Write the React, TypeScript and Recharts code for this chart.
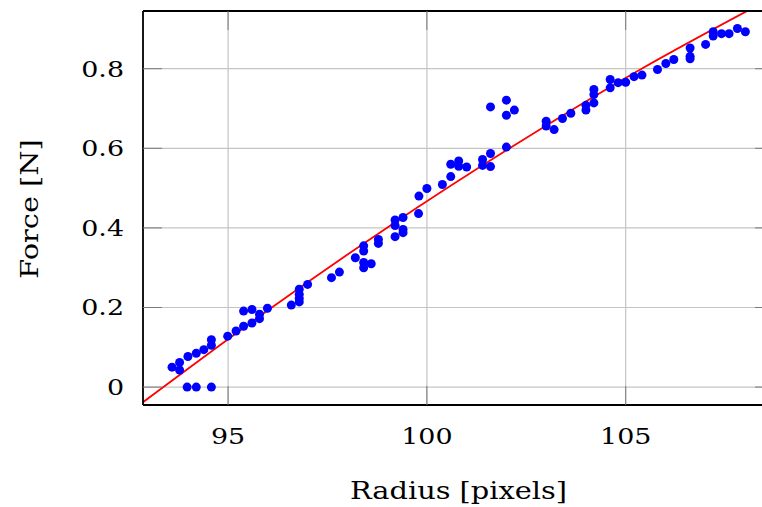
import React from 'react';
import { ComposedChart, XAxis, YAxis, CartesianGrid, Scatter, Line, Label } from 'recharts';

const radius = [
  93.59, 93.78, 93.78, 93.99, 94.2, 94.39, 94.58, 94.58, 93.97, 94.2, 94.58,
  94.99, 95.2, 95.39, 95.39, 95.6, 95.6, 95.79, 95.79, 95.99, 96.59,
  96.79, 96.79, 96.79, 96.79, 97.0, 97.6, 97.8, 98.2, 98.41, 98.41, 98.6,
  98.41, 98.41, 98.78, 98.78, 99.2, 99.2, 99.2, 99.4, 99.4, 99.4, 99.79,
  99.8, 100.0, 100.39, 100.6, 100.6, 100.8, 100.8, 101.0, 101.4, 101.4,
  101.6, 101.6, 101.6, 102.0, 102.0, 102.2, 102.0, 103.0, 103.0, 103.2,
  103.41, 103.62, 104.0, 104.0, 104.2, 104.2, 104.2, 104.61, 104.61, 104.81,
  105.0, 105.21, 105.41, 105.8, 106.01, 106.21, 106.62, 106.62, 106.62,
  107.01, 107.2, 107.2, 107.41, 107.6, 107.81, 108.01,
];
const force = [
  0.05, 0.062, 0.043, 0.077, 0.085, 0.094, 0.119, 0.105, 0.0, 0.0, 0.0,
  0.128, 0.141, 0.153, 0.191, 0.161, 0.195, 0.172, 0.183, 0.198, 0.206,
  0.246, 0.233, 0.223, 0.214, 0.258, 0.275, 0.289, 0.325, 0.313, 0.3, 0.31,
  0.355, 0.342, 0.371, 0.361, 0.42, 0.406, 0.378, 0.426, 0.396, 0.388, 0.436,
  0.48, 0.499, 0.509, 0.529, 0.56, 0.568, 0.555, 0.553, 0.572, 0.557,
  0.587, 0.554, 0.704, 0.721, 0.683, 0.696, 0.603, 0.668, 0.656, 0.647,
  0.675, 0.688, 0.708, 0.696, 0.748, 0.735, 0.714, 0.773, 0.752, 0.765,
  0.766, 0.78, 0.784, 0.798, 0.813, 0.823, 0.852, 0.831, 0.825,
  0.861, 0.893, 0.882, 0.888, 0.888, 0.901, 0.893,
];

const fitRadius = [92.86, 96.1, 98.99, 102.08, 105.4, 108.07];
const fitForce = [-0.038, 0.2, 0.4, 0.6, 0.8, 0.946];

const xTicks = [95, 100, 105];
const yTicks = [0, 0.2, 0.4, 0.6, 0.8];
const xDomain = [92.86, 108.73];
const yDomain = [-0.045, 0.945];

const FONT = '"DejaVu Serif", serif';
const TICK_FS = 23;
const TICK_SX = 1.17;
const LABEL_FS = 24;
const LABEL_SX = 1.2;

const XTick = (props: any) => {
  const { x, y, payload } = props;
  return (
    <g transform={`translate(${x},${y}) scale(${TICK_SX},1)`}>
      <text x={0} y={0} textAnchor="middle" dominantBaseline="central" fontFamily={FONT} fontSize={TICK_FS} fill="#000">
        {String(payload.value)}
      </text>
    </g>
  );
};

const YTick = (props: any) => {
  const { x, y, payload } = props;
  return (
    <g transform={`translate(${x},${y}) scale(${TICK_SX},1)`}>
      <text x={0} y={0} textAnchor="end" dominantBaseline="central" fontFamily={FONT} fontSize={TICK_FS} fill="#000">
        {String(payload.value)}
      </text>
    </g>
  );
};

const NoLabel = () => <g />;

const XTitle = (props: any) => {
  const vb = props.viewBox || { x: 135, y: 397, width: 631, height: 102 };
  const cx = vb.x + vb.width / 2;
  const cy = vb.y + 85;
  return (
    <g transform={`translate(${cx},${cy}) scale(${LABEL_SX},1)`}>
      <text x={0} y={0} textAnchor="middle" dominantBaseline="central" fontFamily={FONT} fontSize={LABEL_FS} fill="#000">
        Radius [pixels]
      </text>
    </g>
  );
};

const YTitle = (props: any) => {
  const vb = props.viewBox || { x: 0, y: 3, width: 135, height: 394 };
  const cx = 21.5;
  const cy = vb.y + vb.height / 2 + 1;
  return (
    <g transform={`translate(${cx},${cy}) rotate(-90) scale(${LABEL_SX},1)`}>
      <text x={0} y={0} textAnchor="middle" dominantBaseline="central" fontFamily={FONT} fontSize={LABEL_FS} fill="#000">
        Force [N]
      </text>
    </g>
  );
};

const frame = { stroke: '#000', strokeWidth: 1.8 };
const tickLn = { stroke: '#7a7a7a', strokeWidth: 1 };

export default function App() {
  const pts = radius.map((r, i) => ({ x: r, y: force[i] }));
  const fit = fitRadius.map((r, i) => ({ x: r, y: fitForce[i] }));
  return (
    <div style={{ position: 'absolute', left: 8, top: 8, width: 754, height: 499, overflow: 'hidden' }}>
      <ComposedChart width={780} height={499} margin={{ top: 2, right: 13, bottom: 0, left: 0 }}>
        <CartesianGrid xAxisId="b" yAxisId="l" stroke="#c4c4c4" strokeWidth={1.2} />
        <XAxis
          xAxisId="b"
          orientation="bottom"
          type="number"
          dataKey="x"
          domain={xDomain}
          ticks={xTicks}
          interval={0}
          allowDataOverflow
          height={102}
          axisLine={frame}
          tickLine={tickLn}
          tickSize={-19}
          tickMargin={50}
          tick={<XTick />}
        >
          <Label content={<XTitle />} />
        </XAxis>
        <XAxis
          xAxisId="t"
          orientation="top"
          type="number"
          dataKey="x"
          domain={xDomain}
          ticks={xTicks}
          interval={0}
          allowDataOverflow
          height={1}
          axisLine={frame}
          tickLine={tickLn}
          tickSize={-19}
          tick={<NoLabel />}
        />
        <YAxis
          yAxisId="l"
          orientation="left"
          type="number"
          domain={yDomain}
          ticks={yTicks}
          interval={0}
          allowDataOverflow
          width={135}
          axisLine={frame}
          tickLine={tickLn}
          tickSize={-19}
          tickMargin={38}
          tick={<YTick />}
        >
          <Label content={<YTitle />} />
        </YAxis>
        <YAxis
          yAxisId="r"
          orientation="right"
          type="number"
          domain={yDomain}
          ticks={yTicks}
          interval={0}
          allowDataOverflow
          width={1}
          axisLine={frame}
          tickLine={tickLn}
          tickSize={-19}
          tick={<NoLabel />}
        />
        <Line
          xAxisId="b"
          yAxisId="l"
          data={fit}
          dataKey="y"
          type="monotone"
          stroke="#ff0000"
          strokeWidth={1.8}
          dot={false}
          activeDot={false}
          isAnimationActive={false}
        />
        <Scatter
          xAxisId="b"
          yAxisId="l"
          data={pts}
          dataKey="y"
          fill="#0000ff"
          shape={(p: any) => <circle cx={p.cx} cy={p.cy} r={4.5} fill="#0000ff" />}
          isAnimationActive={false}
        />
      </ComposedChart>
    </div>
  );
}
